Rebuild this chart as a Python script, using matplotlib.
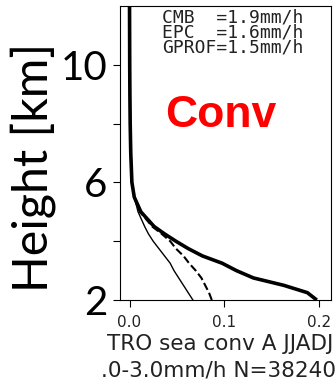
import matplotlib
matplotlib.use("Agg")
import matplotlib.pyplot as plt

# vertical profiles (height in km, value per km)
heights = [2.0, 2.25, 2.5, 2.75, 3.0, 3.25, 3.5, 3.75, 4.0, 4.25, 4.5,
           5.0, 5.5, 6.0, 7.0, 8.0, 9.0, 10.0, 11.0, 12.0]
cmb = [0.198, 0.188, 0.163, 0.131, 0.113, 0.098, 0.077, 0.062, 0.049, 0.037, 0.026,
       0.012, 0.005, 0.0025, 0.0013, 0.0007, 0.0004, 0.0002, 0.0001, 0.0]
epc = [0.087, 0.084, 0.080, 0.076, 0.070, 0.063, 0.057, 0.049, 0.043, 0.034, 0.024,
       0.011, 0.005, 0.0025, 0.0013, 0.0007, 0.0004, 0.0002, 0.0001, 0.0]
gprof = [0.067, 0.062, 0.057, 0.052, 0.047, 0.043, 0.037, 0.031, 0.025, 0.020, 0.016,
         0.009, 0.005, 0.0025, 0.0012, 0.0007, 0.0004, 0.0002, 0.0001, 0.0]

rates = "CMB  =1.9mm/h\nEPC  =1.6mm/h\nGPROF=1.5mm/h"
ytick_vals = [2, 4, 6, 8, 10]
ytick_labels = ["2", "", "6", "", "10"]
xtick_vals = [0.0, 0.1, 0.2]
xtick_labels = ["0.0", "0.1", "0.2"]

fig = plt.figure(figsize=(3.35, 3.83), dpi=100)
ax = fig.add_axes([0.357, 0.2167, 0.631, 0.7676])

ax.plot(cmb, heights, color="black", lw=2.6, solid_capstyle="butt")
ax.plot(epc, heights, color="black", lw=1.5, ls="--")
ax.plot(gprof, heights, color="black", lw=1.0)

ax.set_xlim(-0.0105, 0.213)
ax.set_ylim(2, 12)

ax.set_xticks(xtick_vals)
ax.set_xticklabels(xtick_labels, fontsize=11, color="#222222")
ax.set_yticks(ytick_vals)
ax.set_yticklabels(ytick_labels, fontfamily="Lato", fontsize=29)
ax.tick_params(axis="x", length=5, pad=6)
ax.tick_params(axis="y", length=5, pad=4)

ylab = ax.set_ylabel("Height [km]", fontfamily="Lato", fontsize=34)
ax.yaxis.set_label_coords(-0.30, 0.452)
# fit label length to ~250 px
fig.canvas.draw()
bb = ylab.get_window_extent(fig.canvas.get_renderer())
ylab.set_fontsize(34 * 250 / bb.height)

ax.text(0.2, 0.99, rates, transform=ax.transAxes, family="DejaVu Sans Mono",
        fontsize=13, va="top", ha="left", linespacing=0.78, color="#222222")
ax.text(0.478, 0.588, "Conv", transform=ax.transAxes, family="Liberation Sans",
        fontweight="bold", fontsize=32, color="red", ha="center", va="baseline")

fig.text(107 / 335, 1 - 350 / 383, "TRO sea conv A JJADJ", fontsize=15.5,
         color="#222222", ha="left", va="baseline")
fig.text(101 / 335, 1 - 376 / 383, ".0-3.0mm/h N=38240", fontsize=15.5,
         color="#222222", ha="left", va="baseline")

fig.savefig("out.png", dpi=100)
